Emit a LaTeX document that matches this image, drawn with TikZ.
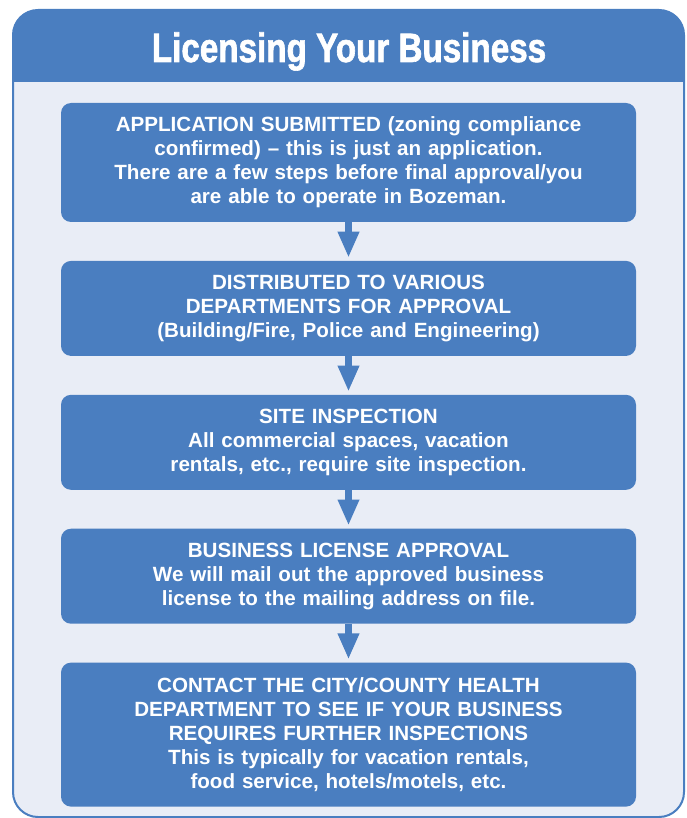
\documentclass[tikz,border=0pt]{standalone}
\usepackage{fontspec}
\setmainfont{Liberation Sans}
\newfontfamily\titlefont[FakeStretch=0.81,BoldFeatures={FakeBold=1.5}]{Liberation Sans}
\usetikzlibrary{positioning, arrows.meta}
\definecolor{myblue}{RGB}{74,126,192}
\definecolor{mybg}{RGB}{233,237,246}

\begin{document}
\begin{tikzpicture}[
   x=1pt, y=-1pt,
   every node/.style  = {font=\fontsize{20.6}{24}\selectfont\bfseries},
   node distance      = 38.5pt,
   stepNode/.style    = {rectangle, rounded corners=10pt, fill=myblue, text=white, align=center, text width=560pt, inner xsep=7.5pt},
   titleNode/.style   = {text=white, anchor=base, font=\titlefont\fontsize{41}{41}\selectfont\bfseries},
   myarrow/.style     = {draw=myblue, line width=7pt, -{Triangle[length=26pt, width=20pt]}, shorten >=3pt}
]
\useasboundingbox (0,0) rectangle (686,818);

% frame and title bar
\begin{scope}
  \clip[rounded corners=25pt] (13,10) rectangle (684,817);
  \fill[mybg] (13,10) rectangle (684,817);
  \fill[myblue] (13,10) rectangle (684,82);
\end{scope}
\draw[myblue, line width=2pt, rounded corners=25pt] (13,10) rectangle (684,817);

\node[titleNode] (title) at (349,62) {Licensing Your Business};

\node[stepNode, minimum height=119pt] (submitted) at (348.5,162.5) {APPLICATION SUBMITTED (zoning compliance\\ confirmed) -- this is just an application.\\ There are a few steps before final approval/you\\ are able to operate in Bozeman.};
\node[stepNode, minimum height=95pt, below=of submitted] (distributed) {DISTRIBUTED TO VARIOUS\\ DEPARTMENTS FOR APPROVAL\\ (Building/Fire, Police and Engineering)};
\node[stepNode, minimum height=95pt, below=of distributed] (inspection) {SITE INSPECTION\\ All commercial spaces, vacation\\ rentals, etc., require site inspection.};
\node[stepNode, minimum height=95pt, below=of inspection] (approval) {BUSINESS LICENSE APPROVAL\\ We will mail out the approved business\\ license to the mailing address on file.};
\node[stepNode, minimum height=144pt, below=of approval] (health) {CONTACT THE CITY/COUNTY HEALTH\\ DEPARTMENT TO SEE IF YOUR BUSINESS\\ REQUIRES FURTHER INSPECTIONS\\ This is typically for vacation rentals,\\ food service, hotels/motels, etc.};

\draw[myarrow] (submitted)   -- (distributed);
\draw[myarrow] (distributed) -- (inspection);
\draw[myarrow] (inspection)  -- (approval);
\draw[myarrow] (approval)    -- (health);
\end{tikzpicture}
\end{document}
